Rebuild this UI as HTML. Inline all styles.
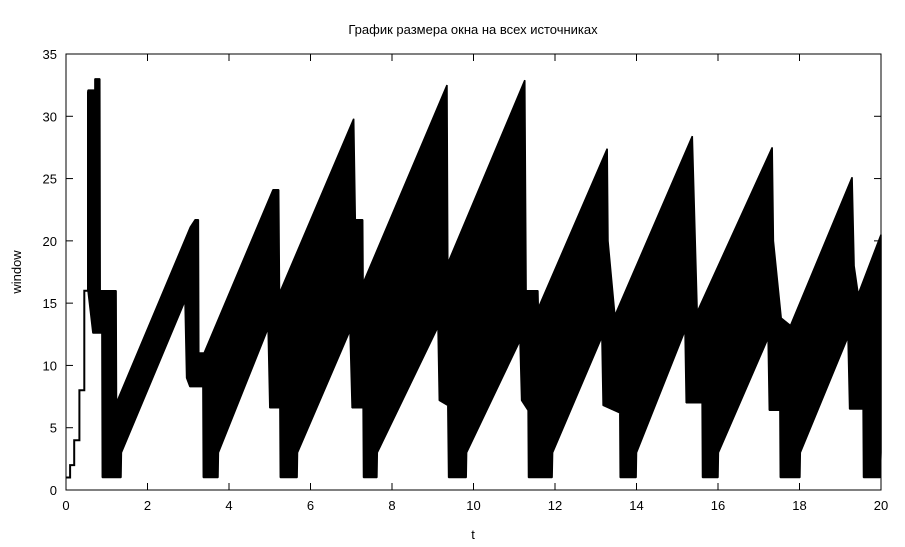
<!DOCTYPE html>
<html><head><meta charset="utf-8">
<style>
html,body{margin:0;padding:0;background:#fff;}
svg{display:block;font-family:"Liberation Sans","DejaVu Sans",sans-serif;}
</style></head>
<body>
<svg id="chart" width="905" height="547" viewBox="0 0 905 547">
<rect x="0" y="0" width="905" height="547" fill="#fff"/>
<text x="473" y="34" text-anchor="middle" font-size="13">График размера окна на всех источниках</text>
<text x="21" y="272" text-anchor="middle" font-size="13" transform="rotate(-90 21 272)">window</text>
<text x="473" y="539" text-anchor="middle" font-size="13">t</text>
<g id="plot"></g>
<g id="axes"></g>
</svg>
<script>
const xTicks = [0,2,4,6,8,10,12,14,16,18,20];
const yTicks = [0,5,10,15,20,25,30,35];
// slow-start step line
const startT = [0,0.1,0.1,0.2,0.2,0.33,0.33,0.45,0.45,0.54,0.54];
const startW = [1,1,2,2,4,4,8,8,16,16,32];
// upper envelope of the aggregated windows
const upperT = [0.54,0.71,0.71,0.83,0.84,1.23,1.24,3.05,3.17,3.25,3.26,3.39,5.08,5.22,5.24,7.06,7.1,7.28,7.29,9.35,9.37,11.26,11.29,11.58,11.59,13.28,13.3,13.47,15.37,15.49,17.33,17.36,17.55,17.78,19.29,19.34,19.44,20];
const upperW = [32.1,32.1,33,33,16,16,7,21.1,21.7,21.7,11,11,24.1,24.1,15.8,29.8,21.7,21.7,16.6,32.5,18.2,32.9,16,16,14.6,27.4,20,14,28.4,14.3,27.5,20,13.8,13.2,25.1,18,15.7,20.5];
// lower envelope
const lowerT = [0.54,0.66,0.88,0.89,1.35,1.36,2.92,2.96,3.04,3.36,3.37,3.73,3.74,4.96,5.0,5.25,5.26,5.67,5.68,6.97,7.02,7.29,7.3,7.63,7.64,9.13,9.16,9.37,9.39,9.82,9.83,11.14,11.18,11.34,11.35,11.93,11.94,13.15,13.18,13.59,13.6,13.99,14.0,15.19,15.22,15.61,15.62,16.0,16.01,17.23,17.26,17.52,17.53,18.01,18.02,19.19,19.23,19.56,19.57,19.98,20];
const lowerW = [16,12.6,12.6,1,1,3,15.2,9,8.3,8.3,1,1,3,13,6.6,6.6,1,1,3,12.8,6.6,6.6,1,1,3,13.1,7.2,6.8,1,1,3,12,7.2,6.4,1,1,3,12.3,6.8,6.2,1,1,3,12.8,7,7,1,1,3,12.2,6.4,6.4,1,1,3,12.3,6.5,6.5,1,1,3];

const X0=66,X1=881,Y0=490,Y1=54;
const xs = t => X0 + (t-0)/(20-0)*(X1-X0);
const ys = w => Y0 - (w-0)/(35-0)*(Y0-Y1);
const NS="http://www.w3.org/2000/svg";
const plot=document.getElementById('plot'), axes=document.getElementById('axes');

let pts=[];
for(let i=0;i<upperT.length;i++) pts.push(xs(upperT[i]).toFixed(1)+','+ys(upperW[i]).toFixed(1));
for(let i=lowerT.length-1;i>=0;i--) pts.push(xs(lowerT[i]).toFixed(1)+','+ys(lowerW[i]).toFixed(1));
const poly=document.createElementNS(NS,'polygon');
poly.setAttribute('points',pts.join(' '));
poly.setAttribute('fill','#000');
poly.setAttribute('stroke','#000');
poly.setAttribute('stroke-width','1.5');
poly.setAttribute('stroke-linejoin','bevel');


plot.appendChild(poly);

const line=document.createElementNS(NS,'polyline');
line.setAttribute('points',startT.map((t,i)=>xs(t).toFixed(1)+','+ys(startW[i]).toFixed(1)).join(' '));
line.setAttribute('fill','none');
line.setAttribute('stroke','#000');
line.setAttribute('stroke-width','2');


plot.appendChild(line);

const frame=document.createElementNS(NS,'rect');
frame.setAttribute('x',X0);frame.setAttribute('y',Y1);
frame.setAttribute('width',X1-X0);frame.setAttribute('height',Y0-Y1);
frame.setAttribute('fill','none');frame.setAttribute('stroke','#000');frame.setAttribute('stroke-width','1');


axes.appendChild(frame);

function mk(tag,attrs){const e=document.createElementNS(NS,tag);for(const k in attrs)e.setAttribute(k,attrs[k]);return e;}
xTicks.forEach(v=>{
  const x=xs(v);
  const t1=mk('line',{x1:x,x2:x,y1:Y0,y2:Y0-7,stroke:'#000'});
  
  
  axes.appendChild(t1);
  const t2=mk('line',{x1:x,x2:x,y1:Y1,y2:Y1+7,stroke:'#000'});
  
  
  axes.appendChild(t2);
  const lb=mk('text',{x:x,y:Y0+20,'text-anchor':'middle','font-size':'13'});
  lb.textContent=v;
  
  
  axes.appendChild(lb);
});
yTicks.forEach(v=>{
  const y=ys(v);
  const t1=mk('line',{x1:X0,x2:X0+7,y1:y,y2:y,stroke:'#000'});
  
  
  axes.appendChild(t1);
  const t2=mk('line',{x1:X1,x2:X1-7,y1:y,y2:y,stroke:'#000'});
  
  
  axes.appendChild(t2);
  const lb=mk('text',{x:X0-9,y:y+5,'text-anchor':'end','font-size':'13'});
  lb.textContent=v;
  
  
  axes.appendChild(lb);
});
</script>
</body></html>
